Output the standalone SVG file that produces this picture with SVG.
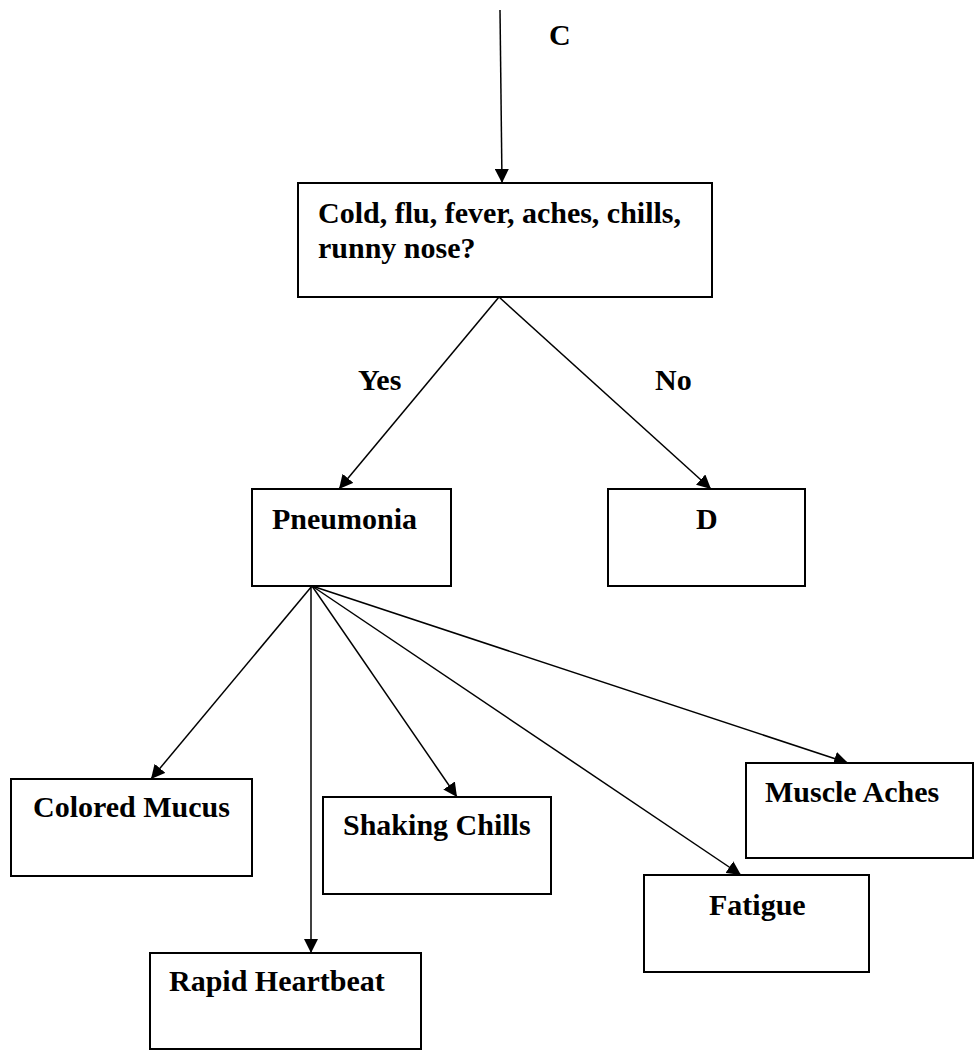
<svg xmlns="http://www.w3.org/2000/svg" width="976" height="1051" viewBox="0 0 976 1051">
<style>
.box{fill:#fff;stroke:#000;stroke-width:2}
.t{font-family:"Liberation Serif","Times New Roman",serif;font-weight:bold;font-size:30px;fill:#000}
.c{stroke:#000;stroke-width:1.5;fill:none}
</style>
<defs>
<marker id="ah" markerUnits="userSpaceOnUse" markerWidth="14" markerHeight="14" refX="14" refY="7" orient="auto">
<path d="M0,0 L14,7 L0,14 z" fill="#000"/>
</marker>
</defs>
<rect width="976" height="1051" fill="#fff"/>
<g id="connectors">
<line class="c" x1="500" y1="10" x2="502" y2="183" marker-end="url(#ah)"/>
<line class="c" x1="499" y1="297" x2="339" y2="489" marker-end="url(#ah)"/>
<line class="c" x1="499" y1="297" x2="711" y2="489" marker-end="url(#ah)"/>
<line class="c" x1="312" y1="586" x2="151" y2="779" marker-end="url(#ah)"/>
<line class="c" x1="311" y1="586" x2="311" y2="953" stroke-width="1" marker-end="url(#ah)"/>
<line class="c" x1="312" y1="586" x2="457" y2="797" stroke-width="1.3" marker-end="url(#ah)"/>
<line class="c" x1="312" y1="586" x2="741" y2="875" stroke-width="1.2" marker-end="url(#ah)"/>
<line class="c" x1="312" y1="586" x2="848" y2="763" stroke-width="1.7" marker-end="url(#ah)"/>
<text class="t" x="549" y="45">C</text>
<text class="t" x="358" y="390">Yes</text>
<text class="t" x="655" y="390">No</text>
</g>
<g id="question">
<rect class="box" x="298" y="183" width="414" height="114"/>
<text class="t" x="318" y="223">Cold, flu, fever, aches, chills,</text>
<text class="t" x="318" y="258">runny nose?</text>
</g>
<g id="pneumonia">
<rect class="box" x="252" y="489" width="199" height="97"/>
<text class="t" x="272" y="529">Pneumonia</text>
</g>
<g id="d">
<rect class="box" x="608" y="489" width="197" height="97"/>
<text class="t" x="696" y="529">D</text>
</g>
<g id="colored-mucus">
<rect class="box" x="11" y="779" width="241" height="97"/>
<text class="t" x="33" y="817">Colored Mucus</text>
</g>
<g id="shaking-chills">
<rect class="box" x="323" y="797" width="228" height="97"/>
<text class="t" x="343" y="835">Shaking Chills</text>
</g>
<g id="rapid-heartbeat">
<rect class="box" x="150" y="953" width="271" height="96"/>
<text class="t" x="169" y="991">Rapid Heartbeat</text>
</g>
<g id="fatigue">
<rect class="box" x="644" y="875" width="225" height="97"/>
<text class="t" x="709" y="915">Fatigue</text>
</g>
<g id="muscle-aches">
<rect class="box" x="746" y="763" width="227" height="95"/>
<text class="t" x="765" y="802">Muscle Aches</text>
</g>
</svg>
